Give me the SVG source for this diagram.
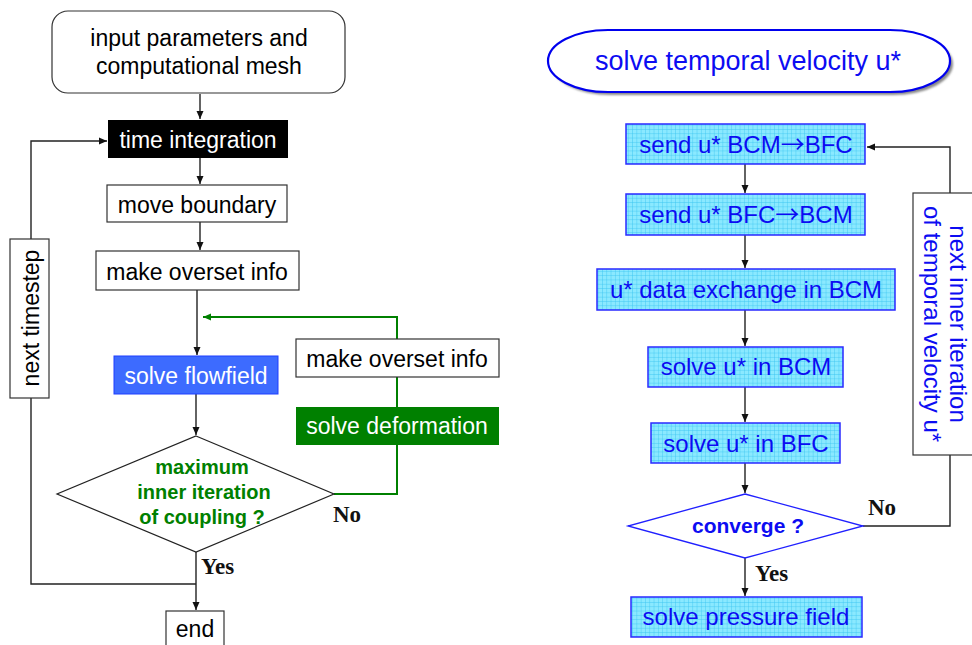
<svg xmlns="http://www.w3.org/2000/svg" width="972" height="645" viewBox="0 0 972 645">
<defs>
<marker id="ab" markerWidth="8" markerHeight="8" refX="8" refY="4" orient="auto" markerUnits="userSpaceOnUse"><path d="M0,0.5 L8,4 L0,7.5 Z" fill="#111"/></marker>
<marker id="ag" markerWidth="8" markerHeight="8" refX="8" refY="4" orient="auto" markerUnits="userSpaceOnUse"><path d="M0,0.5 L8,4 L0,7.5 Z" fill="#008000"/></marker>
<pattern id="grid" width="4.3" height="4.3" patternUnits="userSpaceOnUse"><rect width="4.3" height="4.3" fill="#8AE9FF"/><path d="M0,0 H4.3 M0,0 V4.3" stroke="#38C3F0" stroke-width="0.8"/></pattern>
<filter id="sh" x="-5%" y="-10%" width="115%" height="130%"><feGaussianBlur stdDeviation="1"/></filter>
</defs>
<style>
.t{font-family:"Liberation Sans",Arial,sans-serif;font-size:23px;text-anchor:middle}
.tr{font-family:"Liberation Sans",Arial,sans-serif;font-size:24px;text-anchor:middle;fill:#0C0CF2}
.ar{font-family:"Noto Sans CJK JP","DejaVu Sans",sans-serif}
.wb{fill:#fff;stroke:#333;stroke-width:1.2}
.cb{fill:url(#grid);stroke:#2A2AFF;stroke-width:1.5}
.yn{font-family:"Liberation Serif","Times New Roman",serif;font-size:23px;font-weight:bold;fill:#111}
.c{fill:none;stroke:#222;stroke-width:1.4}
.g{fill:none;stroke:#008000;stroke-width:2}
</style>
<rect width="972" height="645" fill="#fff"/>

<g id="connectors">
<path class="c" d="M200,94 V119" marker-end="url(#ab)"/>
<path class="c" d="M200,158 V184" marker-end="url(#ab)"/>
<path class="c" d="M200,222 V250" marker-end="url(#ab)"/>
<path class="c" d="M197,290 V355" marker-end="url(#ab)"/>
<path class="c" d="M196,394 V435" marker-end="url(#ab)"/>
<path class="c" d="M196,552 V610" marker-end="url(#ab)"/>
<path class="c" d="M196,584 H31 V141 H107" marker-end="url(#ab)"/>
<path class="g" d="M334,494 H397 V317 H203" marker-end="url(#ag)"/>
<path class="c" d="M745,164 V193" marker-end="url(#ab)"/>
<path class="c" d="M745,235 V268" marker-end="url(#ab)"/>
<path class="c" d="M745,310 V346" marker-end="url(#ab)"/>
<path class="c" d="M745,387 V422" marker-end="url(#ab)"/>
<path class="c" d="M745,463 V493" marker-end="url(#ab)"/>
<path class="c" d="M745,558 V596" marker-end="url(#ab)"/>
<path class="c" d="M863,526 H950 V147 H867" marker-end="url(#ab)"/>
</g>

<g id="input">
<rect class="wb" x="52" y="11" width="293" height="82" rx="16"/>
<text class="t" x="199" y="46">input parameters and</text>
<text class="t" x="199" y="74">computational mesh</text>
</g>
<g id="time-integration">
<rect x="108" y="120" width="180" height="38" fill="#000"/>
<text class="t" x="198" y="148" fill="#fff">time integration</text>
</g>
<g id="move-boundary">
<rect class="wb" x="107" y="185" width="180" height="37"/>
<text class="t" x="197" y="213">move boundary</text>
</g>
<g id="make-overset-info">
<rect class="wb" x="96" y="251" width="203" height="39"/>
<text class="t" x="197" y="280">make overset info</text>
</g>
<g id="solve-flowfield">
<rect x="114" y="356" width="164" height="38" fill="#3D6BFF" stroke="#1F3FFF" stroke-width="1"/>
<text class="t" x="196" y="384" fill="#fff">solve flowfield</text>
</g>
<g id="make-overset-info-2">
<rect class="wb" x="296" y="339" width="203" height="38"/>
<text class="t" x="397" y="367">make overset info</text>
</g>
<g id="solve-deformation">
<rect x="296" y="407" width="203" height="38" fill="#008000"/>
<text class="t" x="397" y="434" fill="#fff">solve deformation</text>
</g>
<g id="coupling-decision">
<polygon points="196,436 334,494 196,552 57,494" fill="#fff" stroke="#222" stroke-width="1.2"/>
<text class="t" x="202" y="474" style="font-size:20px;font-weight:bold" fill="#008000">maximum</text>
<text class="t" x="204" y="499" style="font-size:20px;font-weight:bold" fill="#008000">inner iteration</text>
<text class="t" x="202" y="524" style="font-size:20px;font-weight:bold" fill="#008000">of coupling ?</text>
<text class="yn" x="333" y="522">No</text>
<text class="yn" x="201" y="574">Yes</text>
</g>
<g id="next-timestep">
<rect class="wb" x="10" y="239" width="39" height="159"/>
<text class="t" transform="translate(39,318) rotate(-90)" x="0" y="0">next timestep</text>
</g>
<g id="end">
<rect class="wb" x="166" y="611" width="58" height="40"/>
<text class="t" x="195" y="637">end</text>
</g>

<g id="solve-temporal-velocity">
<rect x="551" y="33" width="402" height="62" rx="60" ry="31" fill="#888" filter="url(#sh)"/>
<rect x="548" y="30" width="402" height="62" rx="60" ry="31" fill="#fff" stroke="#0000EE" stroke-width="2.2"/>
<text class="tr" x="748" y="70" style="font-size:27px">solve temporal velocity u*</text>
</g>
<g id="send-bcm-bfc">
<rect class="cb" x="626" y="124" width="239" height="40"/>
<text class="tr" x="746" y="153">send u* BCM<tspan class="ar">→</tspan>BFC</text>
</g>
<g id="send-bfc-bcm">
<rect class="cb" x="626" y="194" width="239" height="41"/>
<text class="tr" x="746" y="223">send u* BFC<tspan class="ar">→</tspan>BCM</text>
</g>
<g id="data-exchange">
<rect class="cb" x="597" y="269" width="298" height="41"/>
<text class="tr" x="746" y="298">u* data exchange in BCM</text>
</g>
<g id="solve-bcm">
<rect class="cb" x="648" y="347" width="195" height="40"/>
<text class="tr" x="746" y="375">solve u* in BCM</text>
</g>
<g id="solve-bfc">
<rect class="cb" x="651" y="423" width="189" height="40"/>
<text class="tr" x="746" y="452">solve u* in BFC</text>
</g>
<g id="converge">
<polygon points="745,494 863,526 745,558 628,526" fill="#fff" stroke="#2020FF" stroke-width="1.3"/>
<text class="tr" x="748" y="533" style="font-size:21px;font-weight:bold">converge ?</text>
<text class="yn" x="868" y="515">No</text>
<text class="yn" x="755" y="581">Yes</text>
</g>
<g id="next-inner-iteration">
<rect class="wb" x="913" y="193" width="64" height="262"/>
<text class="tr" transform="translate(950,324) rotate(90)" x="0" y="0">next inner iteration</text>
<text class="tr" transform="translate(924,324) rotate(90)" x="0" y="0">of temporal velocity u*</text>
</g>
<g id="solve-pressure">
<rect class="cb" x="631" y="597" width="231" height="40"/>
<text class="tr" x="746" y="625">solve pressure field</text>
</g>
</svg>
